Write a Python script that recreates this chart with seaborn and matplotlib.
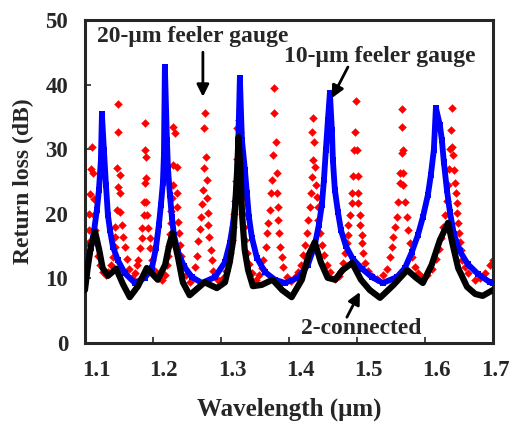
import matplotlib
matplotlib.use("Agg")
import matplotlib.pyplot as plt
import matplotlib.transforms as mtransforms
import seaborn as sns

# 20-um feeler gauge (red diamonds)
red_x = [1.1000, 1.1015, 1.1029, 1.1044, 1.1059, 1.1066, 1.1074, 1.1088, 1.1103, 1.1118, 1.1132, 1.1140, 1.1147,
         1.1169, 1.1191, 1.1221, 1.1265, 1.1309,
         1.1338, 1.1382, 1.1412, 1.1441, 1.1441, 1.1441, 1.1471, 1.1485, 1.1471, 1.1485, 1.1485, 1.1515, 1.1515,
         1.1515, 1.1544, 1.1559, 1.1588, 1.1618, 1.1647, 1.1691,
         1.1735, 1.1765, 1.1779, 1.1809, 1.1838, 1.1838, 1.1868, 1.1868, 1.1882, 1.1882, 1.1882, 1.1897, 1.1897,
         1.1897, 1.1912, 1.1926, 1.1956, 1.1956, 1.1985, 1.2029, 1.2088,
         1.2132, 1.2176, 1.2206, 1.2221, 1.2235, 1.2250, 1.2265, 1.2265, 1.2279, 1.2294, 1.2294, 1.2294, 1.2324,
         1.2353, 1.2353, 1.2353, 1.2368, 1.2382, 1.2397, 1.2412, 1.2441, 1.2485, 1.2544,
         1.2574, 1.2618, 1.2647, 1.2662, 1.2691, 1.2706, 1.2721, 1.2735, 1.2750, 1.2750, 1.2765, 1.2779, 1.2794,
         1.2794, 1.2809, 1.2809, 1.2824, 1.2853, 1.2868, 1.2882, 1.2926, 1.2985,
         1.3029, 1.3074, 1.3103, 1.3132, 1.3162, 1.3176, 1.3191, 1.3206, 1.3221, 1.3235, 1.3235, 1.3265, 1.3279,
         1.3294, 1.3294, 1.3309, 1.3324, 1.3338, 1.3353, 1.3382, 1.3412, 1.3456, 1.3515,
         1.3559, 1.3603, 1.3618, 1.3662, 1.3676, 1.3691, 1.3721, 1.3735, 1.3750, 1.3765, 1.3779, 1.3779, 1.3809,
         1.3824, 1.3824, 1.3838, 1.3838, 1.3853, 1.3868, 1.3897, 1.3912, 1.3971, 1.4029,
         1.4103, 1.4132, 1.4176, 1.4206, 1.4235, 1.4265, 1.4279, 1.4309, 1.4324, 1.4338, 1.4353, 1.4338, 1.4353,
         1.4368, 1.4382, 1.4397, 1.4412, 1.4426, 1.4426, 1.4456, 1.4485, 1.4515, 1.4559, 1.4603, 1.4676,
         1.4735, 1.4765, 1.4794, 1.4824, 1.4853, 1.4868, 1.4868, 1.4897, 1.4926, 1.4926, 1.4941, 1.4956, 1.4971,
         1.4985, 1.5000, 1.5015, 1.5015, 1.5015, 1.5044, 1.5044, 1.5074, 1.5074, 1.5088, 1.5118, 1.5162, 1.5221,
         1.5294,
         1.5382, 1.5441, 1.5485, 1.5515, 1.5529, 1.5559, 1.5588, 1.5603, 1.5632, 1.5632, 1.5662, 1.5662, 1.5662,
         1.5676, 1.5676, 1.5676, 1.5706, 1.5735, 1.5750, 1.5779, 1.5809, 1.5853, 1.5897, 1.5956,
         1.6029, 1.6103, 1.6162, 1.6206, 1.6235, 1.6265, 1.6294, 1.6324, 1.6338, 1.6353, 1.6368, 1.6382, 1.6397,
         1.6397, 1.6412, 1.6426, 1.6441, 1.6456, 1.6471, 1.6471, 1.6485, 1.6500, 1.6515, 1.6529, 1.6544, 1.6588,
         1.6632, 1.6735, 1.6809, 1.6882, 1.6956, 1.7000]
red_y = [11.0, 12.0, 13.5, 15.5, 17.5, 20.0, 23.0, 27.0, 30.3, 26.3, 22.3, 19.8, 17.5,
         15.5, 13.5, 12.0, 11.0, 10.6,
         11.0, 12.0, 13.3, 14.9, 16.4, 18.0, 20.6, 24.1, 27.1, 32.7, 37.0, 26.0, 23.2,
         20.3, 18.3, 16.4, 14.9, 13.0, 11.5, 10.1,
         10.8, 12.0, 12.8, 14.7, 16.3, 17.8, 19.8, 21.8, 24.8, 29.9, 34.0, 28.8, 25.5,
         21.8, 19.8, 17.8, 16.3, 14.7, 12.8, 11.2, 10.0,
         9.8, 10.5, 12.0, 13.5, 15.0, 16.8, 18.5, 20.5, 22.5, 24.5, 27.6, 33.4, 32.5,
         27.2, 23.2, 21.0, 18.7, 17.0, 15.2, 13.5, 12.0, 10.6, 9.5,
         10.2, 11.8, 13.5, 15.8, 17.6, 19.5, 21.5, 23.7, 27.1, 33.3, 35.6, 28.8, 25.2,
         22.4, 20.1, 18.3, 16.4, 14.4, 12.8, 11.1, 10.0, 9.5,
         10.0, 11.2, 12.5, 14.0, 16.0, 18.0, 20.0, 22.0, 25.0, 28.5, 33.3, 34.5, 32.7,
         29.0, 25.5, 22.5, 20.0, 18.0, 16.0, 14.0, 12.3, 10.8, 9.8,
         10.5, 11.6, 12.8, 14.9, 17.0, 18.6, 20.6, 23.2, 25.2, 29.1, 35.6, 39.5, 31.1,
         26.3, 23.2, 21.0, 19.0, 17.0, 14.9, 13.3, 11.8, 10.2, 9.6,
         10.3, 11.0, 12.1, 13.6, 15.2, 17.0, 19.0, 21.0, 23.2, 25.7, 28.3, 32.7, 34.8,
         31.1, 27.2, 24.5, 22.6, 21.0, 19.0, 17.0, 15.2, 13.6, 12.1, 11.0, 9.9,
         10.3, 11.2, 12.4, 13.9, 15.5, 16.7, 18.3, 19.8, 21.7, 23.2, 25.9, 29.9, 32.7,
         37.5, 29.9, 25.9, 23.2, 21.7, 19.8, 18.3, 16.7, 15.5, 13.9, 12.4, 11.2, 10.3,
         9.9,
         10.5, 11.5, 13.3, 14.9, 16.4, 18.0, 19.5, 21.8, 24.8, 26.3, 29.4, 33.4, 36.2,
         29.9, 26.3, 24.5, 21.8, 19.5, 17.5, 15.5, 13.3, 11.8, 10.8, 10.2,
         10.5, 11.5, 13.0, 14.5, 16.2, 18.0, 19.8, 22.0, 24.5, 27.0, 30.0, 33.0, 36.4,
         30.3, 29.1, 26.8, 24.8, 23.2, 21.7, 20.1, 18.6, 17.0, 15.6, 14.4, 12.8, 11.8,
         10.8, 9.8, 10.0, 10.8, 12.1, 12.8]

# 10-um feeler gauge (blue squares)
blue_x = [1.1000, 1.1044, 1.1088, 1.1132, 1.1176, 1.1206, 1.1235, 1.1250, 1.1279, 1.1309, 1.1338, 1.1368,
          1.1412, 1.1485, 1.1588, 1.1735, 1.1882, 1.1985, 1.2044, 1.2088, 1.2118, 1.2147, 1.2162, 1.2176,
          1.2206, 1.2221, 1.2250, 1.2279, 1.2309, 1.2368, 1.2456, 1.2574, 1.2721, 1.2912, 1.3059, 1.3132,
          1.3176, 1.3206, 1.3235, 1.3250, 1.3279, 1.3309, 1.3353, 1.3382, 1.3412, 1.3456, 1.3529, 1.3647,
          1.3794, 1.3941, 1.4132, 1.4279, 1.4382, 1.4441, 1.4485, 1.4515, 1.4544, 1.4574, 1.4603, 1.4632,
          1.4647, 1.4676, 1.4721, 1.4765, 1.4838, 1.4941, 1.5074, 1.5221, 1.5382, 1.5588, 1.5706, 1.5809,
          1.5897, 1.5971, 1.6044, 1.6088, 1.6132, 1.6162, 1.6221, 1.6250, 1.6279, 1.6324, 1.6368, 1.6426,
          1.6515, 1.6632, 1.6779, 1.6956, 1.7000]
blue_y = [10.8, 12.5, 14.7, 17.2, 20.6, 23.7, 28.3, 35.4, 29.9, 24.5, 19.8, 17.5,
          14.9, 12.8, 10.8, 9.3, 10.1, 11.6, 14.7, 18.3, 21.4, 24.8, 29.1, 42.7,
          31.4, 27.1, 22.9, 19.5, 16.7, 14.1, 11.9, 10.2, 9.3, 10.2, 12.5, 15.5,
          18.3, 21.1, 24.5, 28.8, 41.0, 31.4, 26.8, 23.2, 19.5, 16.3, 13.2, 11.0,
          9.8, 9.3, 10.1, 12.1, 15.2, 18.3, 21.4, 25.2, 29.9, 34.5, 38.7, 33.0,
          28.3, 23.7, 20.3, 17.5, 15.0, 13.0, 11.5, 10.2, 9.3, 10.2, 11.6, 14.1,
          16.7, 19.5, 22.9, 26.0, 29.9, 36.4, 33.7, 31.4, 28.0, 23.7, 20.3, 16.9,
          14.2, 12.2, 10.7, 9.4, 9.3]

# 2-connected (black)
black_x = [1.100, 1.104, 1.109, 1.115, 1.121, 1.126, 1.134, 1.146, 1.156, 1.166, 1.178, 1.191, 1.207,
           1.218, 1.224, 1.229, 1.237, 1.244, 1.254, 1.276, 1.294, 1.306, 1.313, 1.318, 1.321, 1.324,
           1.326, 1.329, 1.331, 1.335, 1.340, 1.347, 1.360, 1.376, 1.390, 1.404, 1.419, 1.429, 1.438,
           1.447, 1.457, 1.468, 1.479, 1.493, 1.506, 1.519, 1.534, 1.554, 1.574, 1.587, 1.597, 1.610,
           1.622, 1.634, 1.641, 1.649, 1.662, 1.674, 1.685, 1.700]
black_y = [8.2, 11.6, 15.2, 17.2, 14.4, 11.6, 10.4, 11.5, 9.1, 7.1, 8.8, 11.6, 9.8,
           12.1, 15.2, 17.0, 13.2, 9.4, 7.4, 9.4, 8.5, 9.4, 12.5, 15.9, 21.1, 26.8,
           31.9, 26.0, 20.1, 14.4, 11.3, 8.8, 9.0, 9.8, 8.2, 7.1, 9.8, 13.6, 15.6,
           12.5, 10.1, 9.8, 11.3, 12.4, 9.8, 8.2, 7.0, 9.0, 11.3, 10.1, 9.3, 12.1,
           15.9, 18.6, 15.2, 11.6, 8.7, 7.6, 7.3, 8.2]

x_ticks = [1.1, 1.2, 1.3, 1.4, 1.5, 1.6, 1.7]
y_ticks = [0, 10, 20, 30, 40, 50]

sns.set_style("ticks")
plt.rcParams["font.family"] = ["Liberation Serif", "DejaVu Serif"]
plt.rcParams["font.weight"] = "bold"

fig = plt.figure(figsize=(5.21, 4.23), dpi=100)
ax = fig.add_axes([0.163, 0.189, 0.783, 0.764])

sns.scatterplot(x=red_x, y=red_y, ax=ax, marker="D", s=16, color="#ff0000",
                edgecolor="#ff0000", linewidth=0.3, zorder=2)
sns.lineplot(x=blue_x, y=blue_y, ax=ax, color="#0000ff", lw=4.2, marker="s", markersize=4.5,
             markeredgewidth=0, estimator=None, sort=False, zorder=3)
sns.lineplot(x=black_x, y=black_y, ax=ax, color="black", lw=4.5, estimator=None, sort=False, zorder=4)

ax.set_xlim(1.1, 1.7)
ax.set_ylim(0, 50)
ax.set_xticks(x_ticks)
ax.set_yticks(y_ticks)
ax.set_xticklabels([str(t) for t in x_ticks])
ax.tick_params(direction="in", length=4, width=1.2, labelsize=16.5)
ax.tick_params(axis="x", pad=12)
ax.tick_params(axis="y", pad=12)
for sp in ax.spines.values():
    sp.set_linewidth(2.2)
    sp.set_visible(True)

# tick labels sit a little right of their ticks in the original
for i, lab in enumerate(ax.get_xticklabels()):
    dx = 0.03 if i == len(x_ticks) - 1 else 0.11
    lab.set_transform(lab.get_transform() + mtransforms.ScaledTranslation(dx, 0, fig.dpi_scale_trans))

ax.set_xlabel("Wavelength (μm)", fontsize=18, fontweight="bold", labelpad=12)
ax.set_ylabel("Return loss (dB)", fontsize=17, fontweight="bold", labelpad=8)

fs = 17
arrow = dict(arrowstyle="-|>", lw=2, color="black", mutation_scale=18, shrinkA=0, shrinkB=0)
ax.text(1.259, 47.4, "20-μm feeler gauge", ha="center", va="center", fontsize=fs, fontweight="bold")
ax.annotate("", xy=(1.2735, 38.1), xytext=(1.2735, 45.0), arrowprops=arrow)
ax.text(1.533, 44.3, "10-μm feeler gauge", ha="center", va="center", fontsize=fs, fontweight="bold")
ax.annotate("", xy=(1.4632, 37.9), xytext=(1.4868, 42.7), arrowprops=arrow)
ax.text(1.506, 2.3, "2-connected", ha="center", va="center", fontsize=fs, fontweight="bold")
ax.annotate("", xy=(1.5044, 7.9), xytext=(1.4853, 4.0), arrowprops=arrow)

fig.savefig("out.png", dpi=100)
